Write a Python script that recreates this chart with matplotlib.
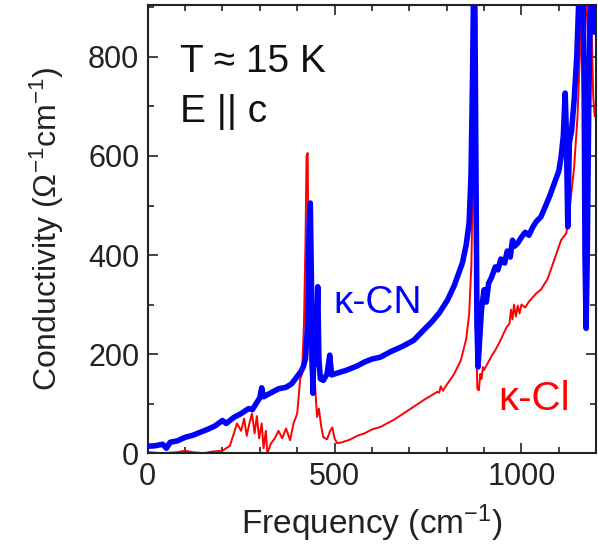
import matplotlib
matplotlib.use("Agg")
import matplotlib.pyplot as plt
from matplotlib.ticker import MultipleLocator

plt.rcParams['font.family'] = ['Liberation Sans', 'DejaVu Sans']
plt.rcParams['mathtext.fontset'] = 'custom'
plt.rcParams['mathtext.rm'] = 'Liberation Sans'
plt.rcParams['mathtext.it'] = 'Liberation Sans'

# kappa-CN spectrum (blue)
cn_freq = [0, 20, 40, 50, 60, 80, 100, 120, 140, 160, 180, 200, 210, 230, 250,
           270, 280, 290, 300, 305, 310, 330, 350, 370, 385, 400, 410, 416, 422,
           428, 432, 435, 438, 442, 446, 450, 455, 458, 462, 470, 480, 487, 492,
           500, 534, 560, 580, 600, 623, 650, 680, 712, 740, 760, 780, 802, 820,
           842, 852, 860, 865, 869, 872, 875, 878, 881, 884, 888, 893, 900, 906,
           912, 920, 930, 937, 945, 955, 962, 970, 976, 982, 990, 1000, 1010,
           1020, 1030, 1040, 1052, 1065, 1076, 1088, 1100, 1106, 1112, 1117,
           1120, 1124, 1128, 1134, 1141, 1148, 1155, 1160, 1165, 1168, 1170,
           1173, 1176, 1180, 1185, 1190, 1195, 1200]
cn_sigma = [14, 15, 18, 10, 22, 25, 32, 36, 42, 48, 55, 66, 60, 72, 80,
            90, 88, 100, 112, 132, 114, 122, 130, 133, 140, 155, 165, 174, 190,
            260, 470, 505, 350, 121, 260, 180, 336, 190, 150, 147, 160, 198, 158,
            160, 168, 176, 184, 190, 194, 205, 215, 228, 250, 265, 283, 309, 338,
            384, 420, 465, 560, 750, 950, 950, 600, 260, 174, 228, 290, 330, 305,
            343, 355, 376, 370, 392, 384, 408, 396, 430, 418, 424, 436, 446,
            440, 456, 468, 477, 500, 520, 545, 570, 598, 640, 727,
            650, 457, 626, 650, 713, 800, 950, 950, 950, 700, 400,
            252, 396, 700, 950, 950, 850, 880]

# kappa-Cl spectrum (red)
cl_freq = [0, 40, 80, 100, 120, 150, 170, 200, 220, 239, 250, 258, 265, 272,
           279, 286, 292, 298, 305, 310, 316, 320, 330, 340, 350, 360, 370, 381,
           390, 400, 408, 413, 418, 422, 425, 428, 431, 434, 438, 444, 448, 453,
           458, 464, 470, 480, 488, 494, 500, 507, 520, 540, 560, 580, 600, 623,
           640, 660, 680, 700, 720, 740, 760, 775, 780, 784, 790, 800, 820, 838,
           852, 860, 866, 869, 871, 874, 878, 882, 886, 890, 893, 897, 900, 910,
           920, 930, 940, 950, 960, 968, 972, 976, 980, 985, 990, 995, 1000,
           1010, 1020, 1040, 1052, 1070, 1090, 1106, 1120, 1130, 1141, 1150,
           1155, 1160, 1163, 1170, 1178, 1185, 1192, 1196, 1200]
cl_sigma = [2, 0, 2, 5, 2, 0, 3, 5, 15, 60, 45, 70, 35, 60, 80, 40, 75, 30, 60,
            10, 45, 0, 20, 30, 45, 30, 50, 26, 60, 80, 150, 160, 260, 420, 600,
            606, 320, 190, 140, 127, 135, 73, 90, 55, 32, 28, 45, 52, 30, 20, 22,
            27, 35, 40, 48, 53, 60, 68, 78, 88, 98, 108, 117, 124, 122, 135, 126,
            138, 160, 188, 230, 280, 380, 520, 800, 500, 250, 130, 127, 160, 150,
            174, 168, 182, 196, 208, 222, 238, 254, 262, 290, 270, 300, 276, 298,
            282, 300, 294, 306, 323, 330, 352, 395, 430, 444, 500, 578, 680, 780,
            860, 950, 950, 850, 950, 720, 680, 700]

fig = plt.figure(figsize=(5.98, 5.46), dpi=100)
ax = fig.add_axes([0.247, 0.170, 0.750, 0.821])

ax.plot(cl_freq, cl_sigma, color='#ff0000', lw=1.4, zorder=2)
ax.plot(cn_freq, cn_sigma, color='#0000ff', lw=4.0, zorder=3)

ax.set_xlim(0, 1200)
ax.set_ylim(0, 905)
ax.xaxis.set_major_locator(MultipleLocator(500))
ax.xaxis.set_minor_locator(MultipleLocator(100))
ax.yaxis.set_major_locator(MultipleLocator(200))
ax.yaxis.set_minor_locator(MultipleLocator(100))
ax.tick_params(which='both', direction='in', top=True, right=True, width=1.2,
               labelsize=22, colors='#222222')
ax.tick_params(which='major', length=7, pad=6)
ax.tick_params(which='minor', length=4)
for s in ax.spines.values():
    s.set_linewidth(1.5)
    s.set_color('#222222')

ax.set_xlabel(r'Frequency (cm$^{-1}$)', fontsize=24, color='#222222', labelpad=8)
ax.set_ylabel(r'Conductivity ($\Omega^{-1}$cm$^{-1}$)', fontsize=23,
              color='#222222', labelpad=16)

ax.text(86, 770, 'T \u2248 15 K', fontsize=28, color='#111111')
ax.text(86, 668, 'E || c', fontsize=28, color='#111111')
ax.text(497, 283, '\u03ba-CN', fontsize=28, color='#0000ff')
ax.text(937, 88, '\u03ba-Cl', fontsize=29, color='#ff0000')

fig.savefig('out.png', dpi=100)
